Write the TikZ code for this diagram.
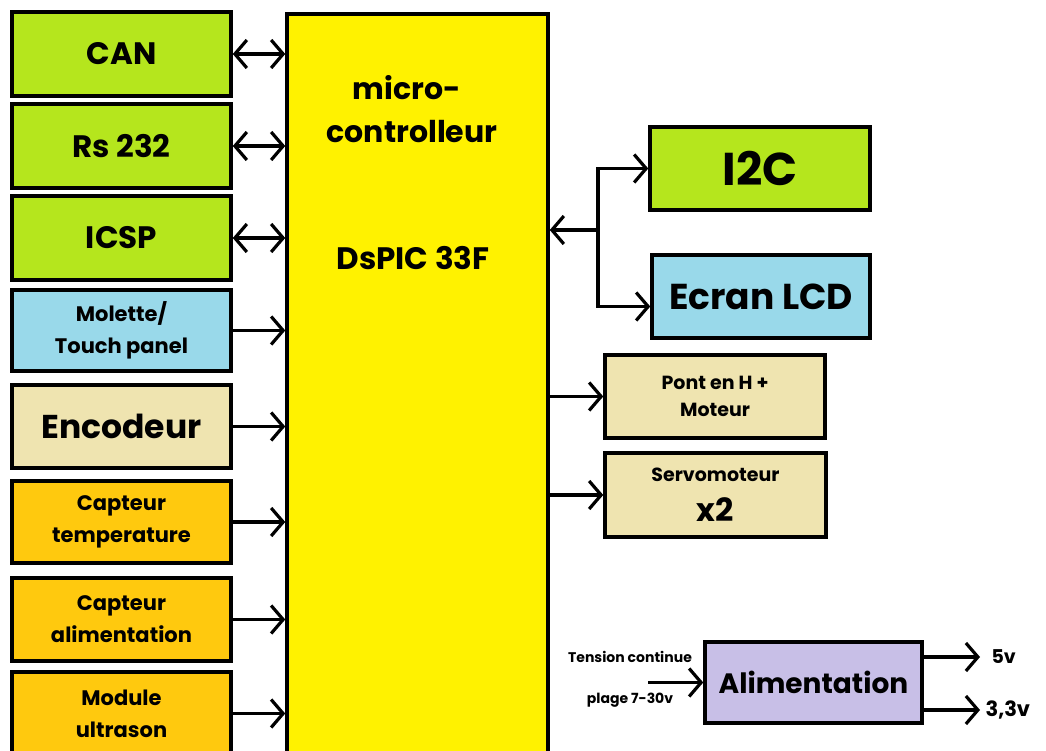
\documentclass[tikz,border=0pt]{standalone}
\definecolor{paintlime}{HTML}{B5E61D}
\definecolor{paintturq}{HTML}{99D9EA}
\definecolor{paintbeige}{HTML}{EFE4B0}
\definecolor{paintgold}{HTML}{FFC90E}
\definecolor{paintyellow}{HTML}{FFF200}
\definecolor{paintlavender}{HTML}{C8BFE7}
\usepackage{fontspec}
\setmainfont{Poppins}
\usepackage{tikz}
\usetikzlibrary{arrows.meta,positioning,calc}

\begin{document}
\begin{tikzpicture}[x=1pt,y=-1pt,
    bloc/.style={draw=black,line width=3.5pt,minimum width=219pt,minimum height=83pt,align=center,inner sep=2pt},
    fl/.style={line width=3.2pt,-{Straight Barb[length=12pt,width=28pt]}},
    fll/.style={line width=3.2pt,{Straight Barb[length=12pt,width=28pt]}-{Straight Barb[length=12pt,width=28pt]}},
    grand/.style={font=\bfseries\fontsize{31}{36}\selectfont},
    petit/.style={font=\bfseries\fontsize{21}{32}\selectfont}]
    \useasboundingbox (0,0) rectangle (1046,751);
    \fill[white] (0,0) rectangle (1046,751);
    \node[bloc,fill=paintyellow,minimum width=261pt,minimum height=750pt] (mcu) at (417.5,389) {};
    \node[font=\bfseries\fontsize{30}{34}\selectfont] (micro) at (407,88) {micro-};
    \node[font=\bfseries\fontsize{30}{34}\selectfont] (ctrl) at (412,132) {controlleur};
    \node[font=\bfseries\fontsize{31}{36}\selectfont] (dspic) at (413,258) {DsPIC 33F};
    \node[bloc,grand,fill=paintlime,minimum height=84pt] (can) at (121.5,54) {CAN};
    \node[bloc,grand,fill=paintlime,minimum height=84pt] (rs) at (121.5,146) {Rs 232};
    \node[bloc,grand,fill=paintlime,minimum height=84pt] (icsp) at (121.5,238) {ICSP};
    \node[bloc,petit,fill=paintturq,minimum height=81pt] (molette) at (121.5,330.5) {Molette/\\Touch panel};
    \node[bloc,fill=paintbeige,font=\bfseries\fontsize{33}{38}\selectfont] (enc) at (121.5,426.5) {Encodeur};
    \node[bloc,petit,fill=paintgold,minimum height=82pt] (temp) at (121.5,522) {Capteur\\temperature};
    \node[bloc,petit,fill=paintgold] (calim) at (121.5,619.5) {Capteur\\alimentation};
    \node[bloc,petit,fill=paintgold] (ultra) at (121.5,713.5) {Module\\ultrason};
    \draw[fll] (can.east) -- (mcu.west |- can.east);
    \draw[fll] (rs.east) -- (mcu.west |- rs.east);
    \draw[fll] (icsp.east) -- (mcu.west |- icsp.east);
    \foreach \n in {molette,enc,temp,calim,ultra}
        \draw[fl] (\n.east) -- (mcu.west |- \n.east);
    \node[bloc,fill=paintlime,minimum width=220pt,font=\bfseries\fontsize{46}{50}\selectfont] (i2c) at (760,168.5) {I2C};
    \node[bloc,fill=paintturq,minimum width=218pt,font=\bfseries\fontsize{36}{40}\selectfont] (lcd) at (761,296.5) {Ecran LCD};
    \coordinate (jct) at (598,230);
    \draw[fl] (jct) -- (mcu.east |- jct);
    \draw[fl] (jct) |- (i2c.west);
    \draw[fl] (jct) |- ($(lcd.west)+(0,10)$);
    \node[bloc,fill=paintbeige,minimum width=220pt,font=\bfseries\fontsize{19}{27}\selectfont] (pont) at (715,396.5) {Pont en H +\\Moteur};
    \node[bloc,fill=paintbeige,minimum width=221pt,minimum height=84pt,font=\bfseries\fontsize{19}{27}\selectfont] (servo) at (715.5,495) {Servomoteur\\[13pt]{\fontsize{32}{34}\selectfont x2}};
    \draw[fl] (mcu.east |- pont.west) -- (pont.west);
    \draw[fl] (mcu.east |- servo.west) -- (servo.west);
    \node[bloc,fill=paintlavender,minimum width=217pt,minimum height=81pt,font=\bfseries\fontsize{28}{32}\selectfont] (alim) at (813.5,682.5) {Alimentation};
    \coordinate (entree) at (648,682.5);
    \draw[fl] (entree) -- (alim.west);
    \node[font=\bfseries\fontsize{14}{16}\selectfont] (tension) at (630,657) {Tension continue};
    \node[font=\bfseries\fontsize{14}{16}\selectfont] (plage) at (630,700) {plage 7-30v};
    \coordinate (s5) at (980,657);
    \coordinate (s33) at (980,710);
    \draw[fl] (alim.east |- s5) -- (s5);
    \draw[fl] (alim.east |- s33) -- (s33);
    \node[anchor=west,font=\bfseries\fontsize{19}{22}\selectfont] (v5) at (988,657) {5v};
    \node[anchor=west,font=\bfseries\fontsize{21}{24}\selectfont] (v33) at (982,710) {3,3v};
\end{tikzpicture}
\end{document}
